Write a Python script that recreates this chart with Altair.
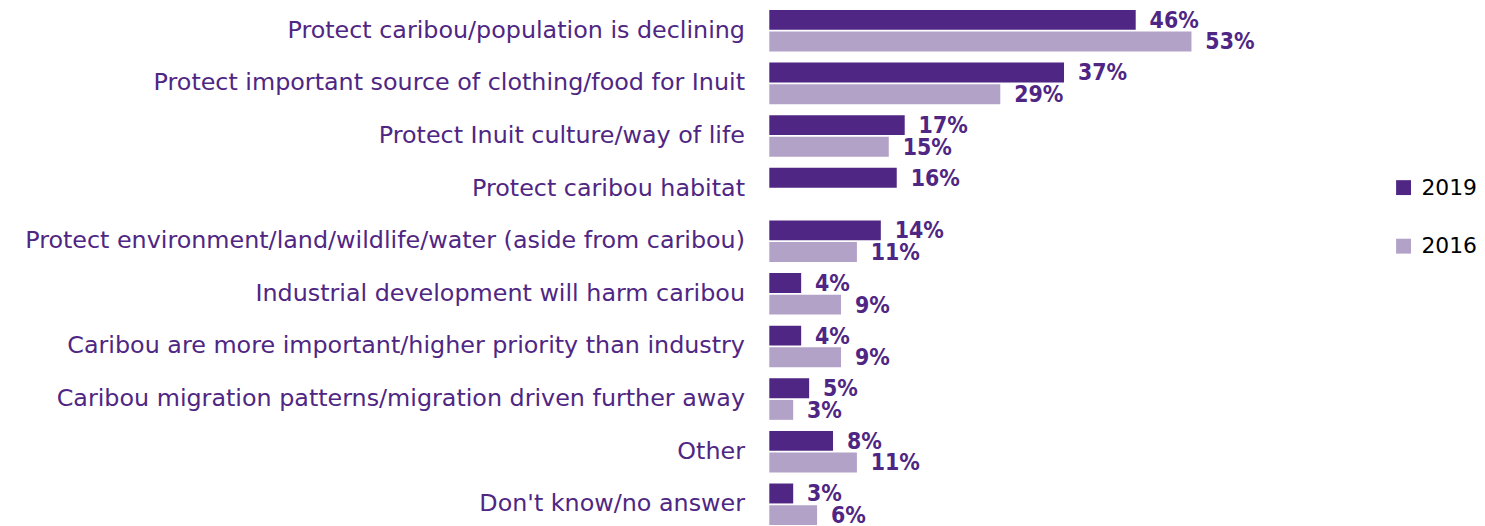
import altair as alt
import pandas as pd

categories = [
    "Protect caribou/population is declining",
    "Protect important source of clothing/food for Inuit",
    "Protect Inuit culture/way of life",
    "Protect caribou habitat",
    "Protect environment/land/wildlife/water (aside from caribou)",
    "Industrial development will harm caribou",
    "Caribou are more important/higher priority than industry",
    "Caribou migration patterns/migration driven further away",
    "Other",
    "Don't know/no answer",
]
values_2019 = [46, 37, 17, 16, 14, 4, 4, 5, 8, 3]
values_2016 = [53, 29, 15, None, 11, 9, 9, 3, 11, 6]
years = ["2019", "2016"]
colors = ["#4F2683", "#B3A2C8"]

rows = []
for c, a, b in zip(categories, values_2019, values_2016):
    rows.append({"category": c, "year": "2019", "value": a})
    if b is not None:
        rows.append({"category": c, "year": "2016", "value": b})
df = pd.DataFrame(rows)
df["label"] = df["value"].astype(int).astype(str) + "%"

purple = "#4F2683"

y = alt.Y(
    "category:N",
    sort=categories,
    scale=alt.Scale(paddingInner=0.21, paddingOuter=0),
    axis=alt.Axis(
        title=None, ticks=False, domain=False, labelFontSize=24,
        labelFont="DejaVu Sans", labelColor=purple, labelPadding=25,
        labelLimit=1000,
    ),
)
yoff = alt.YOffset("year:N", sort=years, scale=alt.Scale(paddingInner=0.08))
x = alt.X("value:Q", scale=alt.Scale(domain=[0, 80]), axis=None)
color = alt.Color(
    "year:N",
    sort=years,
    scale=alt.Scale(domain=years, range=colors),
    legend=alt.Legend(
        title=None, orient="none", legendX=628, legendY=168,
        symbolType="square", symbolSize=225, symbolStrokeWidth=0,
        labelFontSize=22, labelFont="DejaVu Sans", labelColor="black",
        rowPadding=37, padding=0, labelOffset=7,
    ),
)

bars = alt.Chart(df).mark_bar().encode(y=y, yOffset=yoff, x=x, color=color)
text = alt.Chart(df).mark_text(
    align="left", baseline="middle", dx=14, dy=1,
    font="DejaVu Sans Condensed, DejaVu Sans",
    fontSize=23, fontWeight="bold", color=purple,
).encode(y=y, yOffset=yoff, x=x, text="label:N")

chart = (
    (bars + text)
    .properties(width=642, height=519,
                padding={"left": 16, "top": 0, "right": 0, "bottom": 0})
    .configure_view(stroke=None)
)
chart.save("out.html", embed_options={"renderer": "svg", "actions": False})
